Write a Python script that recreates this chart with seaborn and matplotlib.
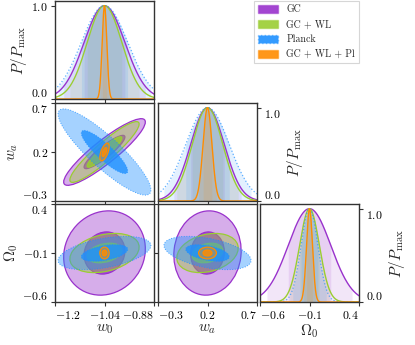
import numpy as np
import matplotlib
matplotlib.use("Agg")
import matplotlib.pyplot as plt
import seaborn as sns
from matplotlib.patches import Ellipse, Patch
from matplotlib.colors import to_rgba

# parameters and axes
param_labels = [r"$w_0$", r"$w_a$", r"$\Omega_0$"]
fiducial = [-1.04, 0.2, -0.1]
limits = [(-1.2, -0.88), (-0.3, 0.7), (-0.6, 0.4)]
tick_values = [[-1.2, -1.04, -0.88], [-0.3, 0.2, 0.7], [-0.6, -0.1, 0.4]]
tick_labels = [["$-1.2$", "$-1.04$", "$-0.88$"],
               ["$-0.3$", "$0.2$", "$0.7$"],
               ["$-0.6$", "$-0.1$", "$0.4$"]]
pdf_ticks = [0.0, 1.0]
pdf_tick_labels = ["$0.0$", "$1.0$"]

# probes
probes = ["GC", "GC + WL", "Planck", "GC + WL + Pl"]
colors = ["#9932CC", "#9ACD32", "#1E90FF", "#FF8C00"]
line_styles = ["-", "-", ":", "-"]

# marginal errors (w0, wa, Om0)
sigma_gc = [0.066, 0.17, 0.215]
sigma_gcwl = [0.056, 0.155, 0.10]
sigma_planck = [0.075, 0.22, 0.085]
sigma_comb = [0.0075, 0.045, 0.03]

# correlations (w0-wa, w0-Om0, wa-Om0)
corr_gc = [0.9, 0.1, 0.05]
corr_gcwl = [0.92, 0.3, 0.25]
corr_planck = [-0.88, 0.45, -0.45]
corr_comb = [0.6, 0.0, 0.0]

sigmas = [sigma_gc, sigma_gcwl, sigma_planck, sigma_comb]
corrs = [corr_gc, corr_gcwl, corr_planck, corr_comb]


def make_cov(sig, rho):
    r = np.array([[1.0, rho[0], rho[1]],
                  [rho[0], 1.0, rho[2]],
                  [rho[1], rho[2], 1.0]])
    d = np.diag(sig)
    return d @ r @ d


covs = [make_cov(s, r) for s, r in zip(sigmas, corrs)]

sns.set_style("ticks")
plt.rcParams["font.family"] = "serif"
plt.rcParams["font.serif"] = ["cmr10"]
plt.rcParams["mathtext.fontset"] = "cm"
plt.rcParams["axes.unicode_minus"] = False

W, H = 415, 345
fig = plt.figure(figsize=(W / 100, H / 100), dpi=100)

col_left = [55, 158, 260]
row_top = [1, 103, 204]
pw, ph = 99, 98


def new_ax(row, col):
    return fig.add_axes([col_left[col] / W, 1 - (row_top[row] + ph) / H, pw / W, ph / H])


def style_ax(ax):
    for s in ax.spines.values():
        s.set_color("#333333")
        s.set_linewidth(1.0)
    ax.tick_params(direction="out", length=3, width=0.8, labelsize=8.5, pad=2,
                   colors="#333333", labelcolor="black")


def align_labels(labels, axis, top=True):
    if axis == "x":
        labels[0].set_ha("left")
        labels[-1].set_ha("right")
    else:
        labels[0].set_va("bottom")
        if top:
            labels[-1].set_va("top")


label_fs = 11

for i in range(3):
    for j in range(i + 1):
        ax = new_ax(i, j)
        style_ax(ax)
        if i == j:
            # 1D marginal
            x = np.linspace(limits[i][0], limits[i][1], 600)
            for k in range(4):
                s = np.sqrt(covs[k][i, i])
                p = np.exp(-0.5 * ((x - fiducial[i]) / s) ** 2)
                for n in (1, 2):
                    ax.fill_between(x, 0, p, where=np.abs(x - fiducial[i]) <= n * s,
                                    color=colors[k], alpha=0.12, lw=0)
                lw = 0.9 if k == 2 else 1.0
                sns.lineplot(x=x, y=p, ax=ax, color=colors[k],
                             linestyle=line_styles[k], lw=lw,
                             alpha=0.7 if k == 2 else 1.0)
            ax.set_ylim(0, 1.05)
            ax.set_yticks(pdf_ticks)
            ax.set_yticklabels(pdf_tick_labels)
            if i == 0:
                ax.set_ylabel(r"$P/P_{\rm max}$", fontsize=label_fs, labelpad=2)
                align_labels(ax.get_yticklabels(), "y", top=False)
            else:
                ax.yaxis.tick_right()
                ax.yaxis.set_label_position("right")
                ax.set_ylabel(r"$P/P_{\rm max}$", fontsize=label_fs, labelpad=3)
                align_labels(ax.get_yticklabels(), "y")
        else:
            # 2D contours
            for k in range(4):
                c2 = covs[k][np.ix_([j, i], [j, i])]
                vals, vecs = np.linalg.eigh(c2)
                ang = np.degrees(np.arctan2(vecs[1, 1], vecs[0, 1]))
                for n, a in ((2, 0.4), (1, 0.8)):
                    e = Ellipse((fiducial[j], fiducial[i]),
                                2 * n * np.sqrt(vals[1]), 2 * n * np.sqrt(vals[0]),
                                angle=ang, facecolor=to_rgba(colors[k], a),
                                edgecolor=to_rgba(colors[k], 0.8 if k == 2 else 1.0),
                                lw=0.7 if k == 2 else 0.9,
                                linestyle=line_styles[k])
                    ax.add_patch(e)
            ax.set_ylim(limits[i])
            ax.set_yticks(tick_values[i])
            if j == 0:
                ax.set_yticklabels(tick_labels[i])
                align_labels(ax.get_yticklabels(), "y")
                ax.set_ylabel(param_labels[i], fontsize=label_fs, labelpad=2)
            else:
                ax.set_yticklabels([])
        ax.set_xlim(limits[j])
        ax.set_xticks(tick_values[j])
        if i == 2:
            ax.set_xticklabels(tick_labels[j])
            align_labels(ax.get_xticklabels(), "x")
            ax.set_xlabel(param_labels[j], fontsize=label_fs, labelpad=1)
        else:
            ax.set_xticklabels([])

handles = [Patch(facecolor=to_rgba(c, 0.9), edgecolor=to_rgba(c, 0.5), linestyle=ls, label=p)
           for c, ls, p in zip(colors, line_styles, probes)]
leg = fig.legend(handles=handles, loc="upper right", bbox_to_anchor=(359 / W, 1 - 1 / H),
                 fontsize=7.1, frameon=True, fancybox=False, handlelength=2.1,
                 handleheight=0.8, borderpad=0.4, labelspacing=0.55, handletextpad=0.8,
                 borderaxespad=0.0)
leg.get_frame().set_edgecolor("#cccccc")
leg.get_frame().set_linewidth(0.8)

fig.savefig("out.png", dpi=100)
